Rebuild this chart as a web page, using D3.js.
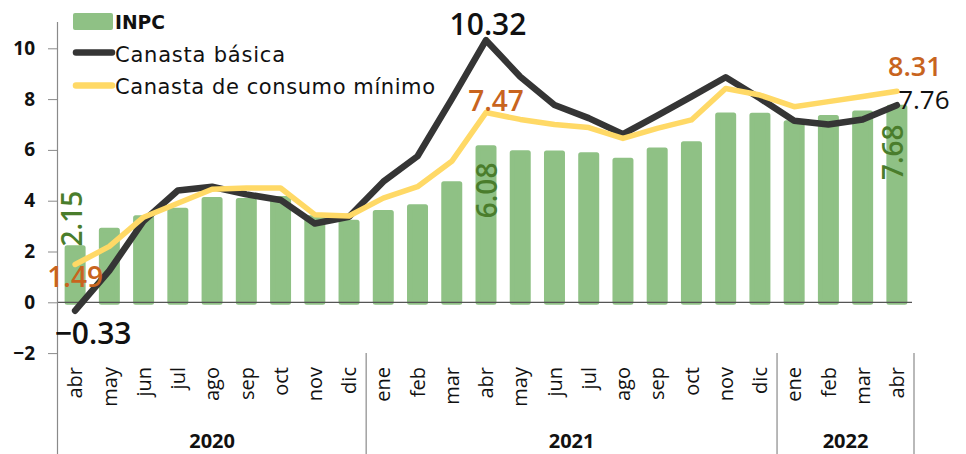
<!DOCTYPE html>
<html><head><meta charset="utf-8">
<script src="https://cdn.jsdelivr.net/npm/d3@7"></script>
<style>body{margin:0;background:#fff}svg{display:block}</style>
</head><body><svg id="c" width="966" height="454"></svg>
<script>
const months=["abr","may","jun","jul","ago","sep","oct","nov","dic","ene","feb","mar","abr","may","jun","jul","ago","sep","oct","nov","dic","ene","feb","mar","abr"];
const yearLabels=["2020","2021","2022"];
const yearSpans=[9,12,4];
const inpc=[2.15,2.84,3.33,3.62,4.05,4.01,4.09,3.33,3.15,3.54,3.76,4.67,6.08,5.89,5.88,5.81,5.59,6.00,6.24,7.37,7.36,7.07,7.28,7.45,7.68];
const canastaBasica=[-0.33,1.25,3.2,4.4,4.55,4.25,4.03,3.1,3.37,4.75,5.75,8.0,10.32,8.88,7.77,7.25,6.62,7.35,8.1,8.86,8.03,7.15,7.0,7.2,7.76];
const canastaMinima=[1.49,2.2,3.35,3.9,4.45,4.5,4.5,3.45,3.4,4.1,4.55,5.55,7.47,7.2,7.0,6.88,6.45,6.85,7.18,8.42,8.16,7.7,7.9,8.1,8.31];
const yTicks=[-2,0,2,4,6,8,10];

const C={bar:"#8fc185",black:"#353535",yellow:"#ffd966",orange:"#c8641e",green:"#4a7d2c",axis:"#8a8a8a"};
const svg=d3.select("#c");
const n=months.length;
const x=d3.scaleBand().domain(d3.range(n)).range([58,914]).paddingInner(0.533).paddingOuter(0.2665);
const y=d3.scaleLinear().domain([-2,10]).range([353.1,48.3]);
const cx=i=>x(i)+x.bandwidth()/2;
const bound=k=>x.range()[0]+k*x.step();

// bars
svg.append("g").selectAll("rect").data(inpc).join("rect")
  .attr("x",(d,i)=>x(i)).attr("width",x.bandwidth())
  .attr("y",d=>y(Math.max(0,d))).attr("height",d=>Math.abs(y(d)-y(0)))
  .attr("fill",C.bar).attr("stroke",C.bar).attr("stroke-width",5).attr("stroke-linejoin","round");

// zero line
svg.append("line").attr("x1",58).attr("x2",bound(n)-2).attr("y1",y(0)).attr("y2",y(0))
  .attr("stroke","#555").attr("stroke-width",1.2);

// y axis
const ya=svg.append("g").attr("transform","translate(57,0)")
  .call(d3.axisLeft(y).tickValues(yTicks).tickSize(9).tickPadding(13).tickFormat(d3.format("d")));
ya.select(".domain").remove();
ya.selectAll(".tick line").attr("stroke",C.axis);
ya.selectAll(".tick text").attr("font-family","Open Sans").attr("font-weight","bold").attr("font-size",19).attr("fill","#111");
svg.append("line").attr("x1",57.5).attr("x2",57.5).attr("y1",22).attr("y2",454).attr("stroke",C.axis).attr("stroke-width",1.2);

// lines
const line=d3.line().x((d,i)=>cx(i)).y(d=>y(d));
svg.append("path").datum(canastaBasica).attr("d",line).attr("fill","none")
  .attr("stroke",C.black).attr("stroke-width",6.5).attr("stroke-linejoin","round").attr("stroke-linecap","round");
svg.append("path").datum(canastaMinima).attr("d",line).attr("fill","none")
  .attr("stroke",C.yellow).attr("stroke-width",5.5).attr("stroke-linejoin","round").attr("stroke-linecap","round");

// month axis
const xa=svg.append("g").attr("transform","translate(0,367)")
  .call(d3.axisBottom(x).tickSize(0).tickFormat(i=>months[i]));
xa.select(".domain").remove();
xa.selectAll(".tick text").attr("transform","rotate(-90)").attr("x",0).attr("y",0).attr("dy","0.36em")
  .attr("text-anchor","end").attr("font-family","Open Sans").attr("font-size",20).attr("fill","#111");

// year groups
let acc=0;
yearSpans.forEach((s,k)=>{
  const a=bound(acc), b=bound(acc+s);
  svg.append("text").attr("x",(a+b)/2).attr("y",448).attr("text-anchor","middle")
    .attr("font-family","Open Sans").attr("font-weight","bold").attr("font-size",20).attr("fill","#111").text(yearLabels[k]);
  acc+=s;
  svg.append("line").attr("x1",b).attr("x2",b).attr("y1",353).attr("y2",454).attr("stroke",C.axis).attr("stroke-width",1.2);
});

// value labels
const fmt=d3.format(".2f");
const valueLabels=[
  {s:canastaBasica,i:12,dx:2,dy:-5,fill:"#111",size:30,w:600},
  {s:canastaBasica,i:0,dx:18,dy:33,fill:"#111",size:30,w:600},
  {s:canastaBasica,i:24,dx:27,dy:4,fill:"#111",size:26,w:500},
  {s:canastaMinima,i:0,dx:0,dy:22.5,fill:C.orange,size:28,w:600},
  {s:canastaMinima,i:12,dx:10,dy:-1.5,fill:C.orange,size:28,w:600},
  {s:canastaMinima,i:24,dx:18,dy:-15,fill:C.orange,size:27,w:600}
];
valueLabels.forEach(l=>{
  svg.append("text").attr("x",cx(l.i)+l.dx).attr("y",y(l.s[l.i])+l.dy).attr("text-anchor","middle")
    .attr("font-family","Open Sans").attr("font-weight",l.w).attr("font-size",l.size).attr("fill",l.fill)
    .text(fmt(l.s[l.i]));
});
const barLabels=[{i:0,dx:7,dy:-29},{i:12,dx:11,dy:42.6},{i:24,dx:6,dy:45}];
barLabels.forEach(l=>{
  svg.append("text").attr("transform",`translate(${cx(l.i)+l.dx},${y(inpc[l.i])+l.dy}) rotate(-90)`)
    .attr("text-anchor","middle").attr("font-family","Open Sans").attr("font-weight",600).attr("font-size",28)
    .attr("fill",C.green).text(fmt(inpc[l.i]));
});

// legend
const lg=svg.append("g");
lg.append("rect").attr("x",73).attr("y",13).attr("width",40).attr("height",17).attr("rx",2).attr("fill",C.bar);
lg.append("line").attr("x1",76).attr("x2",112).attr("y1",52.5).attr("y2",52.5).attr("stroke",C.black).attr("stroke-width",6.5).attr("stroke-linecap","round");
lg.append("line").attr("x1",76).attr("x2",112).attr("y1",85.5).attr("y2",85.5).attr("stroke",C.yellow).attr("stroke-width",6.5).attr("stroke-linecap","round");
lg.append("text").attr("x",115).attr("y",28.5).attr("font-family","DejaVu Sans").attr("font-weight","bold").attr("font-size",20)
  .attr("textLength",50).attr("lengthAdjust","spacingAndGlyphs").attr("fill","#111").text("INPC");
lg.append("text").attr("x",115).attr("y",62).attr("font-family","DejaVu Sans").attr("font-size",21)
  .attr("textLength",170).attr("fill","#111").text("Canasta básica");
lg.append("text").attr("x",115).attr("y",93.5).attr("font-family","DejaVu Sans").attr("font-size",21)
  .attr("textLength",320).attr("fill","#111").text("Canasta de consumo mínimo");
</script></body></html>
